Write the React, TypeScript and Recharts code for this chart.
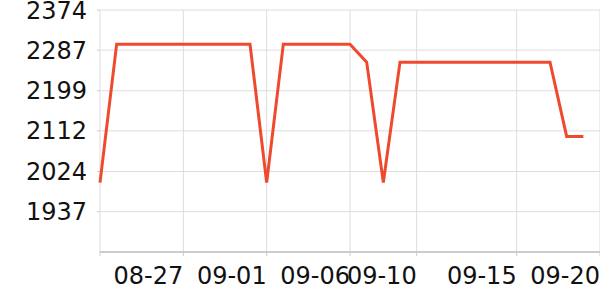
import React from 'react';
import { LineChart, Line, XAxis, YAxis, CartesianGrid } from 'recharts';

// daily values, one per day starting 08-22
const values = [
  2000, 2300, 2300, 2300, 2300, 2300, 2300, 2300, 2300, 2300,
  2000, 2300, 2300, 2300, 2300, 2300, 2261, 2000, 2261, 2261,
  2261, 2261, 2261, 2261, 2261, 2261, 2261, 2261, 2100, 2100,
];

const xTicks = [0, 5, 10, 15, 19, 25, 30];
const xTickLabels = ['', '08-27', '09-01', '09-06', '09-10', '09-15', '09-20'];
const yTicks = [1937, 2024, 2112, 2199, 2287, 2374];

const data = values.map((v, i) => ({ day: i, value: v }));

const FONT = 'DejaVu Sans';

const XTick = (props: any) => {
  const { x, y, payload } = props;
  const idx = xTicks.indexOf(payload.value);
  return (
    <text x={x} y={y} dy="0.71em" textAnchor="end" fontFamily={FONT} fontSize={24} fill="#111">
      {xTickLabels[idx]}
    </text>
  );
};

export default function App() {
  return (
    <div style={{ width: 600, height: 300, overflow: 'hidden' }}>
      <style>{'body{margin:0;overflow:hidden}'}</style>
      <LineChart
        width={600}
        height={300}
        data={data}
        margin={{ top: 10, right: 0, bottom: 0, left: 0 }}
      >
        <CartesianGrid stroke="#dddddd" />
        <XAxis
          dataKey="day"
          type="number"
          domain={[0, 30]}
          ticks={xTicks}
          interval={0}
          tick={<XTick />}
          tickSize={4}
          tickMargin={11}
          height={48}
          stroke="#aaaaaa"
          tickLine={{ stroke: '#cccccc' }}
        />
        <YAxis
          type="number"
          domain={[1849.5, 2374]}
          ticks={yTicks}
          interval={0}
          width={100}
          axisLine={false}
          tickSize={3}
          tickMargin={10}
          tickLine={{ stroke: '#cccccc' }}
          tick={{ fontFamily: FONT, fontSize: 24, fill: '#111' }}
        />
        <Line
          type="linear"
          dataKey="value"
          stroke="#ee4a2e"
          strokeWidth={3}
          dot={false}
          isAnimationActive={false}
        />
      </LineChart>
    </div>
  );
}
